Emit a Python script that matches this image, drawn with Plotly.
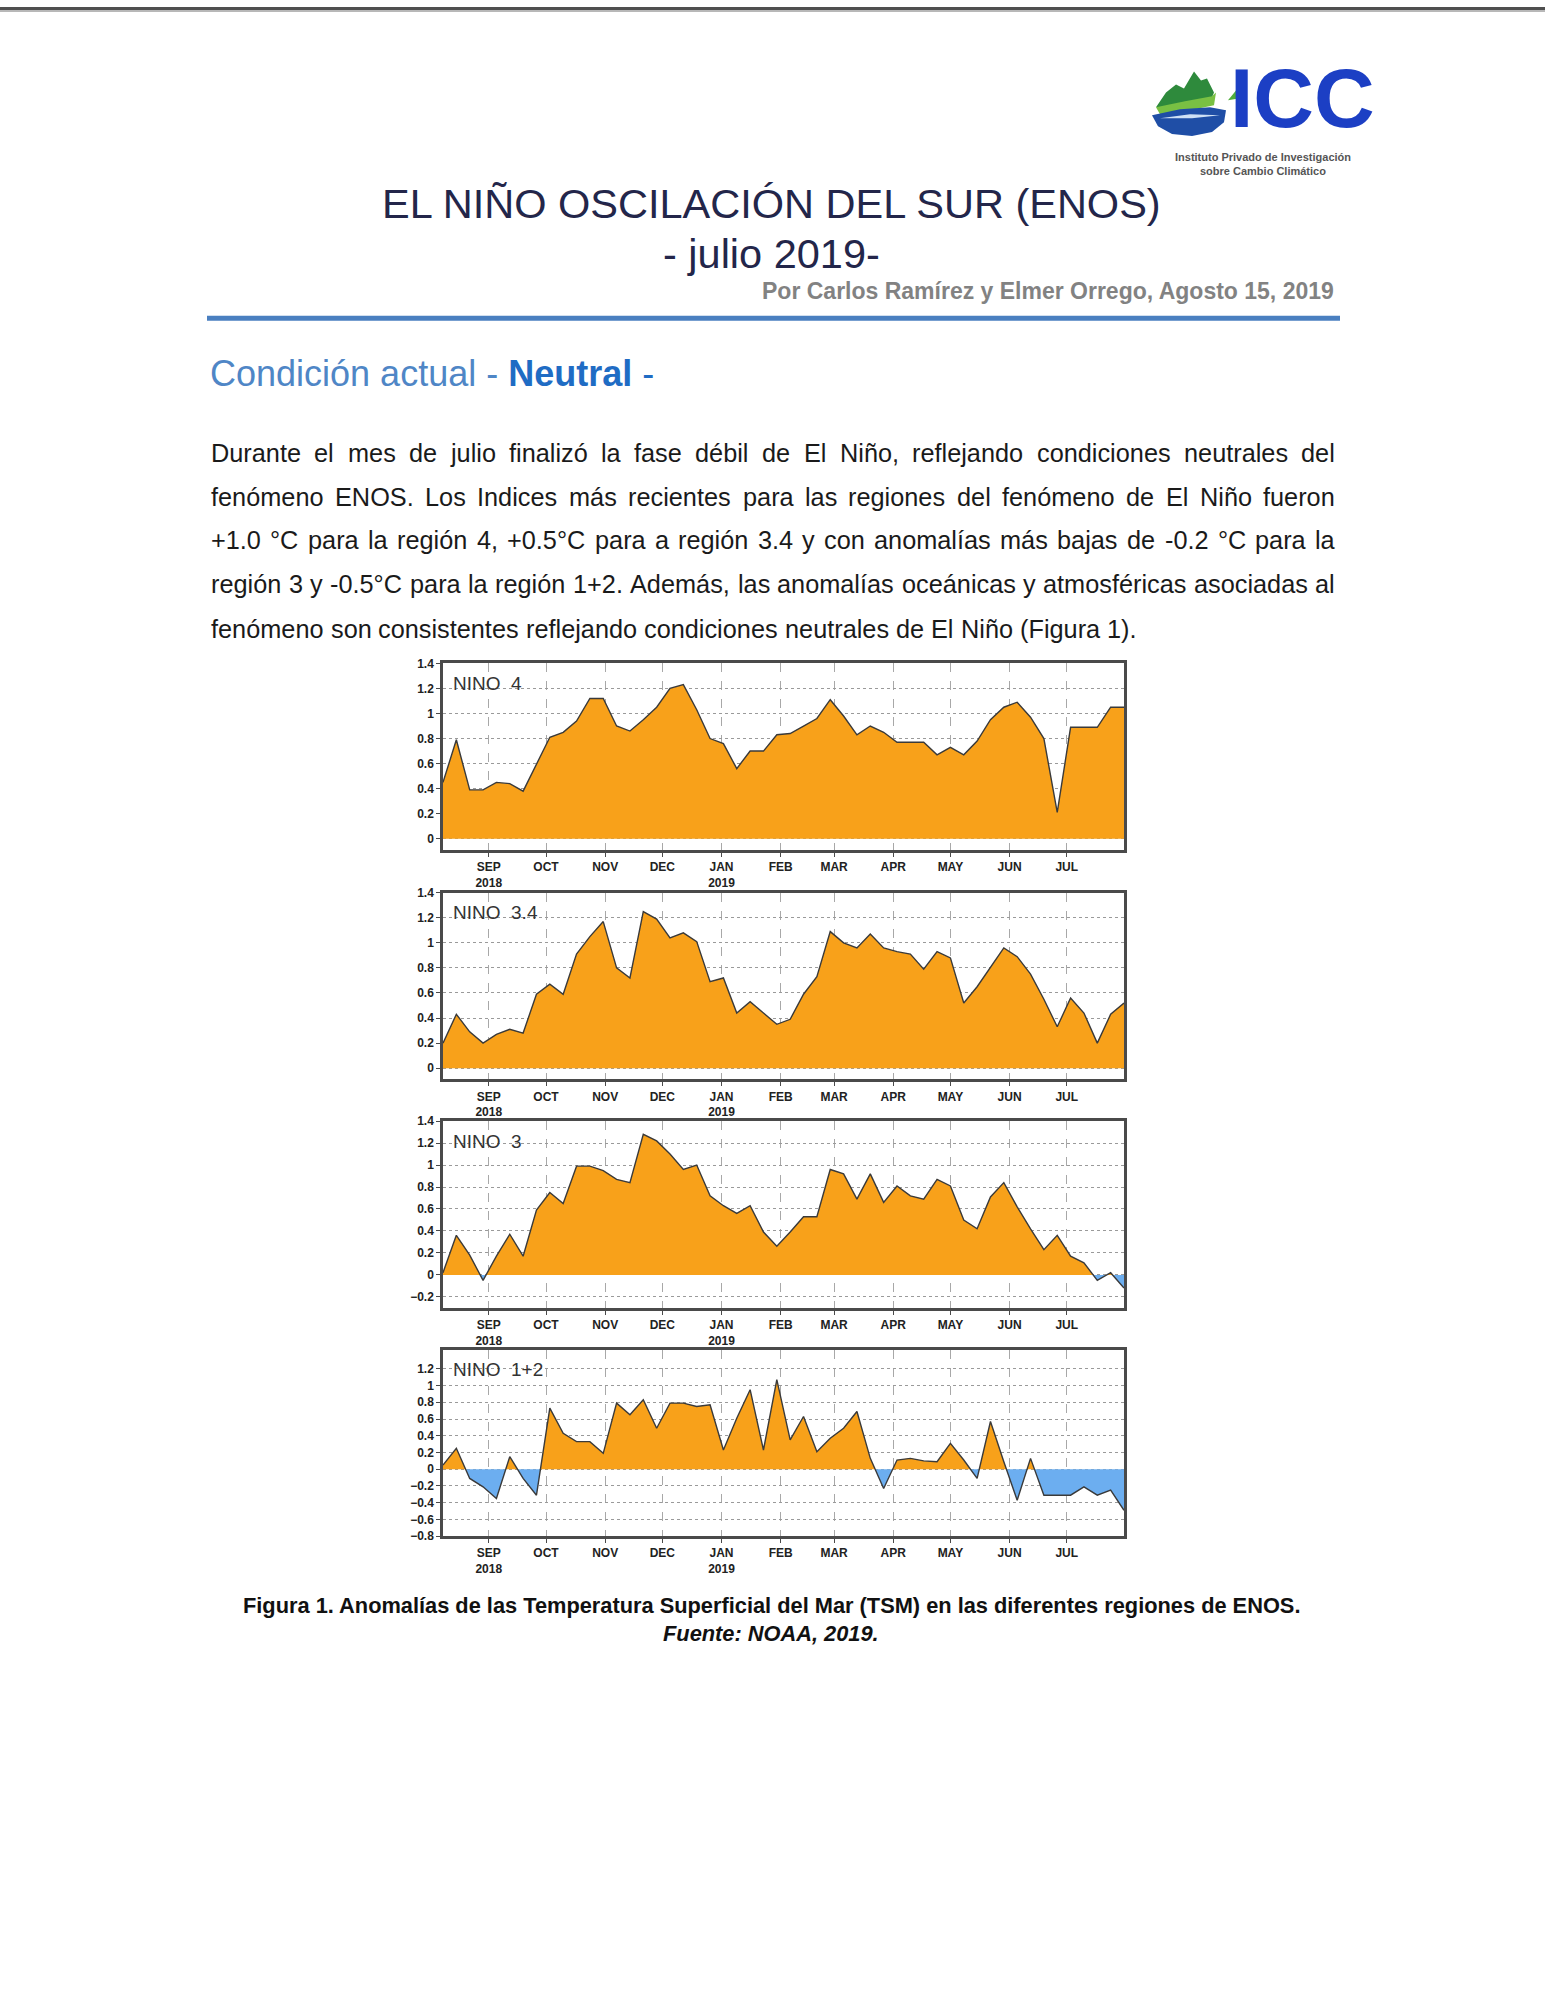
import plotly.graph_objects as go
import pandas as pd

W, H = 1545, 2000

# ---------------- data ----------------
week_start = "2018-08-08"
n_weeks = 52
nino4 = [0.45, 0.79, 0.39, 0.39, 0.45, 0.44, 0.38, 0.60, 0.81, 0.85,
         0.94, 1.12, 1.12, 0.90, 0.86, 0.95, 1.05, 1.20, 1.23, 1.03,
         0.80, 0.76, 0.56, 0.70, 0.70, 0.83, 0.84, 0.90, 0.96, 1.11,
         0.98, 0.83, 0.90, 0.85, 0.77, 0.77, 0.77, 0.67, 0.73, 0.67,
         0.78, 0.95, 1.05, 1.09, 0.97, 0.80, 0.21, 0.89, 0.89, 0.89,
         1.05, 1.05]
nino34 = [0.20, 0.43, 0.29, 0.20, 0.27, 0.31, 0.28, 0.59, 0.67, 0.59,
          0.91, 1.05, 1.17, 0.80, 0.72, 1.25, 1.19, 1.04, 1.08, 1.01,
          0.69, 0.72, 0.44, 0.53, 0.44, 0.35, 0.39, 0.59, 0.73, 1.09,
          1.00, 0.96, 1.07, 0.96, 0.93, 0.91, 0.79, 0.93, 0.88, 0.52,
          0.65, 0.81, 0.96, 0.89, 0.75, 0.55, 0.33, 0.56, 0.44, 0.20,
          0.43, 0.52]
nino3 = [0.02, 0.36, 0.18, -0.05, 0.17, 0.37, 0.17, 0.59, 0.75, 0.65,
         0.99, 0.99, 0.95, 0.87, 0.84, 1.28, 1.22, 1.10, 0.96, 1.00,
         0.72, 0.63, 0.56, 0.63, 0.39, 0.26, 0.39, 0.53, 0.53, 0.96,
         0.92, 0.69, 0.92, 0.66, 0.81, 0.72, 0.69, 0.87, 0.81, 0.50,
         0.42, 0.71, 0.84, 0.62, 0.42, 0.23, 0.36, 0.17, 0.11, -0.05,
         0.02, -0.12]
nino12 = [0.05, 0.25, -0.11, -0.21, -0.35, 0.15, -0.11, -0.31, 0.73, 0.43,
          0.33, 0.33, 0.19, 0.79, 0.65, 0.83, 0.49, 0.79, 0.79, 0.75,
          0.77, 0.23, 0.61, 0.95, 0.23, 1.07, 0.35, 0.63, 0.21, 0.37,
          0.49, 0.69, 0.13, -0.23, 0.11, 0.13, 0.10, 0.09, 0.31, 0.11,
          -0.11, 0.57, 0.09, -0.37, 0.13, -0.31, -0.31, -0.31, -0.21, -0.31,
          -0.25, -0.49]

panel_names = ["NINO\u00a0\u00a04", "NINO\u00a0\u00a03.4", "NINO\u00a0\u00a03", "NINO\u00a0\u00a01+2"]
panel_values = [nino4, nino34, nino3, nino12]
panel_yranges = [[-0.09, 1.4], [-0.09, 1.4], [-0.3, 1.4], [-0.8, 1.43]]
panel_yticks = [[0, 0.2, 0.4, 0.6, 0.8, 1, 1.2, 1.4],
                [0, 0.2, 0.4, 0.6, 0.8, 1, 1.2, 1.4],
                [-0.2, 0, 0.2, 0.4, 0.6, 0.8, 1, 1.2, 1.4],
                [-0.8, -0.6, -0.4, -0.2, 0, 0.2, 0.4, 0.6, 0.8, 1, 1.2]]
month_labels = ["SEP<br>2018", "OCT", "NOV", "DEC", "JAN<br>2019", "FEB",
                "MAR", "APR", "MAY", "JUN", "JUL"]

title_1 = "EL NIÑO OSCILACIÓN DEL SUR (ENOS)"
title_2 = "- julio 2019-"
byline = "Por Carlos Ramírez y Elmer Orrego, Agosto 15, 2019"
para_lines = [
    "Durante el mes de julio finalizó la fase débil de El Niño, reflejando condiciones neutrales del",
    "fenómeno ENOS. Los Indices más recientes para las regiones del fenómeno de El Niño fueron",
    "+1.0 °C para la región 4, +0.5°C para a región 3.4 y con anomalías más bajas de -0.2 °C para la",
    "región 3 y -0.5°C para la región 1+2. Además, las anomalías oceánicas y atmosféricas asociadas al",
    "fenómeno son consistentes reflejando condiciones neutrales de El Niño (Figura 1).",
]
caption_1 = "Figura 1. Anomalías de las Temperatura Superficial del Mar (TSM) en las diferentes regiones de ENOS."
caption_2 = "Fuente: NOAA, 2019."
logo_name = "ICC"
logo_line_1 = "Instituto Privado de Investigación"
logo_line_2 = "sobre Cambio Climático"

# ---------------- helpers ----------------
dates = pd.date_range(week_start, periods=n_weeks, freq="7D")
month_ticks = pd.date_range("2018-09-01", "2019-07-01", freq="MS")

FONT = "Liberation Sans, Arial, sans-serif"
NARROW = "Liberation Sans Narrow, Liberation Sans, Arial, sans-serif"
ORANGE = "#F8A11A"
BLUE = "#6CAEF0"


def px(x):
    return x / W


def py(y):
    return 1 - y / H


AW = {' ': 278, '.': 278, ',': 278, '-': 333, '+': 584, '(': 333, ')': 333,
      '°': 400, ':': 278}
for c in 'abdeghnopqu0123456789áéóúñ':
    AW[c] = 556
for c in 'ckvsxyz':
    AW[c] = 500
for c in 'ft':
    AW[c] = 278
for c in 'ijl':
    AW[c] = 222
AW['í'] = 278
AW['m'] = 833
AW['r'] = 333
AW['w'] = 722
for c in 'ABEKPSVXY':
    AW[c] = 667
for c in 'CDHNRUÑ':
    AW[c] = 722
for c in 'FTZ':
    AW[c] = 611
for c in 'GOQÓ':
    AW[c] = 778
AW['I'] = 278
AW['J'] = 500
AW['L'] = 556
AW['M'] = 833
AW['W'] = 944


def tw(s, size):
    return sum(AW.get(c, 556) for c in s) * size / 1000.0


def split_sign(x, y):
    xs, ys = [], []
    for i in range(len(y)):
        if i > 0 and y[i - 1] * y[i] < 0:
            t = y[i - 1] / (y[i - 1] - y[i])
            xs.append(x[i - 1] + (x[i] - x[i - 1]) * t)
            ys.append(0.0)
        xs.append(x[i])
        ys.append(y[i])
    return xs, ys


fig = go.Figure()

# panel placement (pixels)
x_left, x_right = 443, 1124
panel_tops = [661, 892, 1122, 1352]
panel_h = 188

annotations = []
for k in range(4):
    i = k + 1
    vals = panel_values[k]
    xs, ys = split_sign(list(dates), vals)
    pos = [max(v, 0) for v in ys]
    neg = [min(v, 0) for v in ys]
    xa = "x" if i == 1 else f"x{i}"
    ya = "y" if i == 1 else f"y{i}"
    fig.add_trace(go.Scatter(x=xs, y=pos, mode="lines", fill="tozeroy",
                             fillcolor=ORANGE, line=dict(width=0, color=ORANGE),
                             xaxis=xa, yaxis=ya, showlegend=False, hoverinfo="skip"))
    fig.add_trace(go.Scatter(x=xs, y=neg, mode="lines", fill="tozeroy",
                             fillcolor=BLUE, line=dict(width=0, color=BLUE),
                             xaxis=xa, yaxis=ya, showlegend=False, hoverinfo="skip"))
    fig.add_trace(go.Scatter(x=list(dates), y=vals, mode="lines",
                             line=dict(width=1.4, color="#3a3a3a"),
                             xaxis=xa, yaxis=ya, showlegend=False))
    top = panel_tops[k]
    bot = top + panel_h
    xkey = "xaxis" if i == 1 else f"xaxis{i}"
    ykey = "yaxis" if i == 1 else f"yaxis{i}"
    fig.update_layout(**{
        xkey: dict(domain=[px(x_left), px(x_right)], anchor=ya, type="date",
                   range=[dates[0], dates[-1]], tickvals=list(month_ticks),
                   ticktext=month_labels, showgrid=True, gridcolor="#a8a8a8",
                   griddash="dash", gridwidth=1, showline=True, linecolor="#4a4a4a",
                   linewidth=2.5, mirror=True, ticks="outside", ticklen=4,
                   tickcolor="#4a4a4a", zeroline=False,
                   tickfont=dict(family=NARROW, size=12, color="#222", weight="bold")),
        ykey: dict(domain=[py(bot), py(top)], anchor=xa, range=panel_yranges[k],
                   tickvals=panel_yticks[k], showgrid=True, gridcolor="#9a9a9a",
                   griddash="dot", gridwidth=1, zeroline=False, showline=True,
                   linecolor="#4a4a4a", linewidth=2.5, mirror=True, ticks="outside",
                   ticklen=4, tickcolor="#4a4a4a",
                   tickfont=dict(family=NARROW, size=12, color="#222", weight="bold")),
    })
    annotations.append(dict(text=panel_names[k], xref=f"{xa} domain", yref=f"{ya} domain",
                            x=0.012, y=0.96, xanchor="left", yanchor="top", showarrow=False,
                            font=dict(family=FONT, size=19, color="#333")))

# ---------------- page text ----------------
annotations.append(dict(text=title_1, x=px(771), y=py(198), xref="paper", yref="paper",
                        showarrow=False, xanchor="center", yanchor="middle",
                        font=dict(family=FONT, size=41.5, color="#23264a")))
annotations.append(dict(text=title_2, x=px(771), y=py(248), xref="paper", yref="paper",
                        showarrow=False, xanchor="center", yanchor="middle",
                        font=dict(family=FONT, size=41.5, color="#23264a")))
annotations.append(dict(text=byline, x=px(1336), y=py(286), xref="paper", yref="paper",
                        showarrow=False, xanchor="right", yanchor="middle",
                        font=dict(family=FONT, size=23, color="#828282", weight="bold")))
annotations.append(dict(text="<span style='color:#4f86c6'>Condición actual - </span>"
                             "<b>Neutral</b> -",
                        x=px(208), y=py(369), xref="paper", yref="paper",
                        showarrow=False, xanchor="left", yanchor="middle",
                        font=dict(family=FONT, size=36, color="#1f6cc4")))

# justified paragraph
P_SIZE = 25.3
P_LEFT, P_RIGHT = 210, 1334
line_y = [449, 493, 537, 581, 626]
for li, line in enumerate(para_lines):
    words = line.split(" ")
    widths = [tw(w, P_SIZE) for w in words]
    if li < len(para_lines) - 1:
        gap = (P_RIGHT - P_LEFT - sum(widths)) / (len(words) - 1)
    else:
        gap = tw(" ", P_SIZE)
    x = P_LEFT
    for w, wd in zip(words, widths):
        annotations.append(dict(text=w, x=px(x), y=py(line_y[li]), xref="paper", yref="paper",
                                showarrow=False, xanchor="left", yanchor="middle", borderpad=0,
                                font=dict(family=FONT, size=P_SIZE, color="#1a1a1a")))
        x += wd + gap

annotations.append(dict(text=caption_1, x=px(771), y=py(1610), xref="paper", yref="paper",
                        showarrow=False, xanchor="center", yanchor="middle",
                        font=dict(family=FONT, size=21.8, color="#111", weight="bold")))
annotations.append(dict(text="<i>" + caption_2 + "</i>", x=px(771), y=py(1638), xref="paper",
                        yref="paper", showarrow=False, xanchor="center", yanchor="middle",
                        font=dict(family=FONT, size=21.8, color="#111", weight="bold")))

# logo text
annotations.append(dict(text=logo_name, x=px(1228), y=py(92), xref="paper", yref="paper",
                        showarrow=False, xanchor="left", yanchor="middle",
                        font=dict(family=FONT, size=84, color="#1c3fc4", weight="bold")))
annotations.append(dict(text=logo_line_1, x=px(1263), y=py(151),
                        xref="paper", yref="paper", showarrow=False, xanchor="center",
                        yanchor="middle",
                        font=dict(family=NARROW, size=11, color="#555", weight="bold")))
annotations.append(dict(text=logo_line_2, x=px(1263), y=py(165),
                        xref="paper", yref="paper", showarrow=False, xanchor="center",
                        yanchor="middle",
                        font=dict(family=NARROW, size=11, color="#555", weight="bold")))


def path(points):
    return "M " + " L ".join(f"{px(a):.5f},{py(b):.5f}" for a, b in points) + " Z"


shapes = [
    # top border of page
    dict(type="rect", xref="paper", yref="paper", x0=0, x1=1, y0=py(3), y1=1,
         fillcolor="#4f4f4f", line=dict(width=0)),
    dict(type="rect", xref="paper", yref="paper", x0=0, x1=1, y0=py(5), y1=py(3),
         fillcolor="#b8b8b8", line=dict(width=0)),
    # blue rule
    dict(type="rect", xref="paper", yref="paper", x0=px(207), x1=px(1340), y0=py(316),
         y1=py(311), fillcolor="#4a7fc0", line=dict(width=0)),
    # logo icon
    dict(type="path", xref="paper", yref="paper",
         path=path([(1156, 101), (1166, 86), (1176, 78), (1184, 82), (1194, 65), (1201, 74),
                    (1207, 72), (1214, 86), (1210, 96), (1190, 98), (1170, 102)]),
         fillcolor="#2e8a3c", line=dict(width=0)),
    dict(type="path", xref="paper", yref="paper",
         path=path([(1156, 101), (1185, 95), (1212, 90), (1216, 86), (1214, 99),
                    (1190, 104), (1160, 108)]),
         fillcolor="#79c043", line=dict(width=0)),
    dict(type="path", xref="paper", yref="paper",
         path=path([(1152, 109), (1180, 103), (1210, 101), (1226, 104), (1224, 116),
                    (1212, 126), (1192, 130), (1172, 128), (1158, 120)]),
         fillcolor="#1f4ea6", line=dict(width=0)),
    dict(type="path", xref="paper", yref="paper",
         path=path([(1160, 112), (1190, 108), (1220, 109), (1192, 112)]),
         fillcolor="#cfe0f5", line=dict(width=0)),
    dict(type="path", xref="paper", yref="paper",
         path=path([(1228, 94), (1236, 84), (1246, 82), (1240, 92)]),
         fillcolor="#4fae3a", line=dict(width=0)),
]

fig.update_layout(
    width=W, height=H, autosize=False,
    margin=dict(l=0, r=0, t=0, b=0, pad=0),
    paper_bgcolor="white", plot_bgcolor="white",
    annotations=annotations, shapes=shapes, showlegend=False,
    font=dict(family=FONT),
)

fig.write_html("out.html", config={"displayModeBar": False},
               post_script="document.body.style.margin='0';")
